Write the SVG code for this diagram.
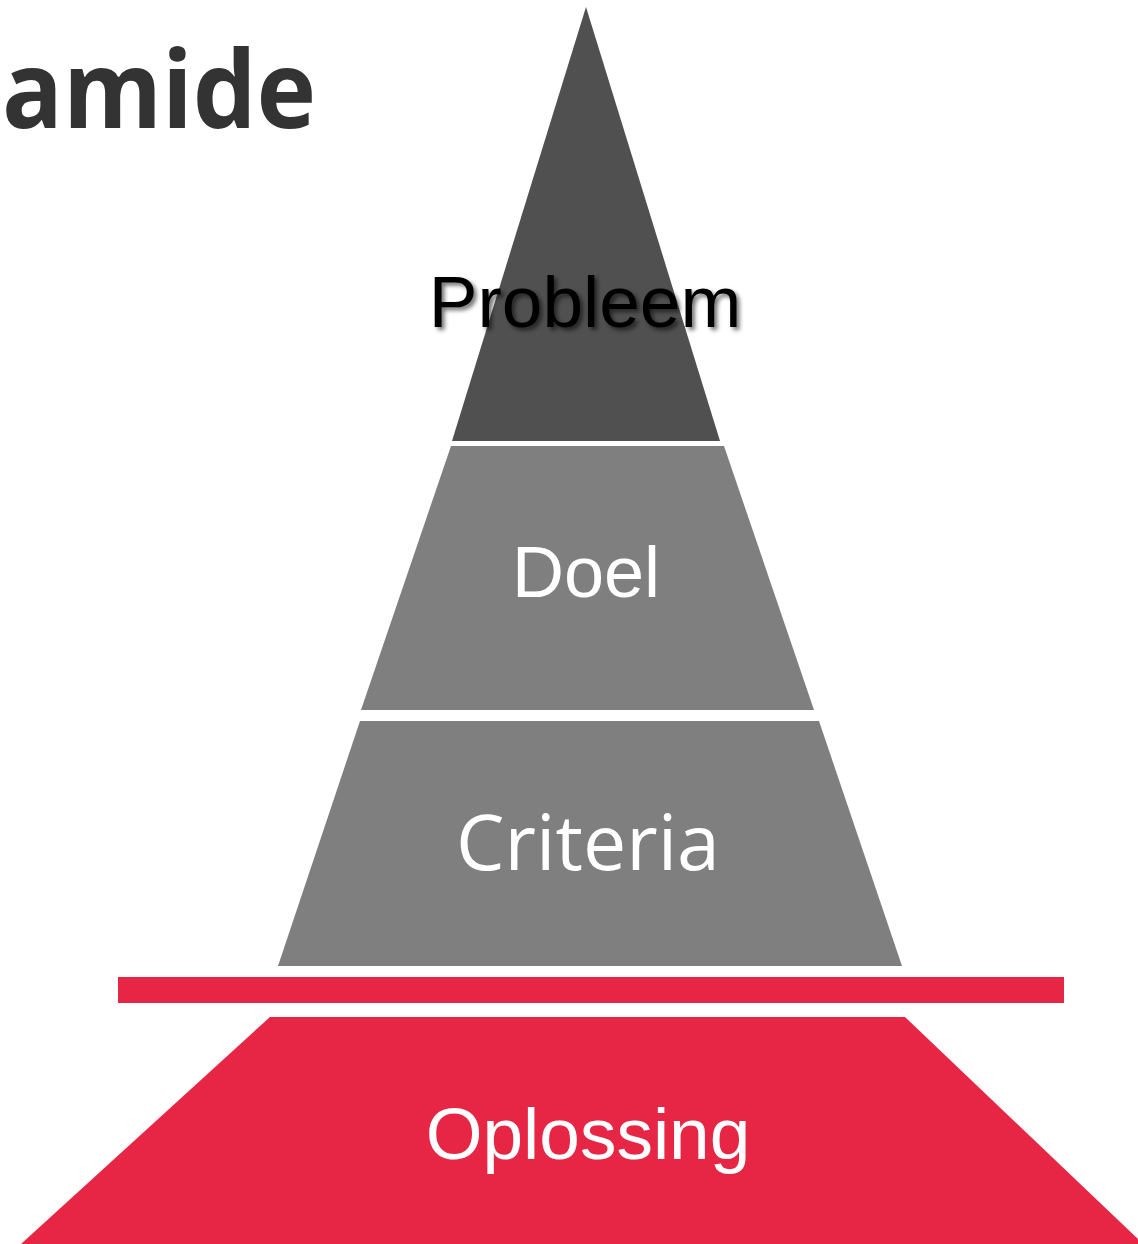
<svg xmlns="http://www.w3.org/2000/svg" width="1138" height="1244" viewBox="0 0 1138 1244">
<defs>
<style>
.lbl{font-family:"Liberation Sans",Arial,sans-serif;text-anchor:middle}
.w{fill:#ffffff}
.grey{fill:#7f7f7f}
.red{fill:#e72645}
</style>
<filter id="sh" x="-10%" y="-20%" width="130%" height="150%">
<feDropShadow dx="3" dy="3" stdDeviation="2" flood-color="#000" flood-opacity="0.55"/>
</filter>
</defs>
<rect width="1138" height="1244" fill="#ffffff"/>
<text x="2" y="128" font-family="'Open Sans','Noto Sans',sans-serif" font-weight="bold" font-size="107" fill="#333333" textLength="314" lengthAdjust="spacingAndGlyphs">amide</text>
<g id="probleem">
<polygon points="586,7 720,441 452,441" fill="#505050"/>
<text class="lbl" x="585" y="327" font-size="73" fill="#000000" filter="url(#sh)">Probleem</text>
</g>
<g id="doel">
<polygon class="grey" points="451,446 724,446 814,710 361,710"/>
<text class="lbl w" x="586" y="597" font-size="72">Doel</text>
</g>
<g id="criteria">
<polygon class="grey" points="360,721 819,721 902,966 278,966"/>
<text x="588" y="870" font-family="'Open Sans','Noto Sans',sans-serif" font-size="77" fill="#ffffff" text-anchor="middle">Criteria</text>
</g>
<g id="bar">
<rect class="red" x="118" y="977" width="946" height="26"/>
</g>
<g id="oplossing">
<polygon class="red" points="270,1017 905,1017 1138,1239 1138,1244 21,1244"/>
<text class="lbl w" x="588" y="1159" font-size="73">Oplossing</text>
</g>
<g id="connectors"/>
</svg>
